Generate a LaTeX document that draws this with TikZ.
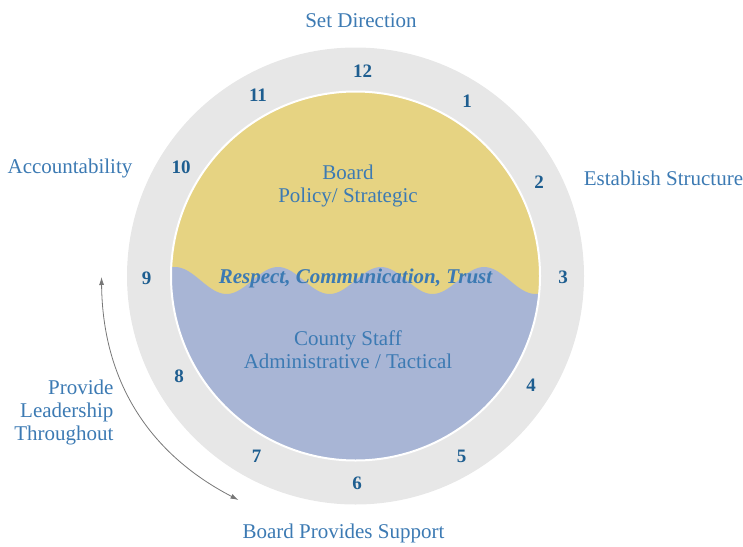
\documentclass[tikz,border=0pt]{standalone}
\usepackage{fontspec}
\setmainfont{Liberation Serif}
\usetikzlibrary{arrows.meta}
\definecolor{ringgray}{HTML}{E7E7E7}
\definecolor{boardyellow}{HTML}{E6D382}
\definecolor{staffblue}{HTML}{A8B5D5}
\definecolor{textblue}{HTML}{3C7AB3}
\definecolor{hourblue}{HTML}{1E5E90}
\definecolor{arrowgray}{HTML}{777777}
\begin{document}
\begin{tikzpicture}[x=1pt, y=-1pt,
    phase/.style={text=textblue, font=\fontsize{21}{23}\selectfont, align=center},
    hour/.style={text=hourblue, font=\fontsize{19}{19}\selectfont\bfseries}]
    \useasboundingbox (0,0) rectangle (743,546);
    % ring and the two halves
    \fill[ringgray] (355.5,276) circle[radius=228.5];
    \fill[boardyellow] (355.5,276) circle[radius=184.5];
    \begin{scope}
      \clip (355.5,276) circle[radius=184.5];
      \fill[staffblue] plot[domain=165:550, samples=150] (\x, {280.5-13.5*cos((\x-175)*3.495)})
        -- (550,470) -- (165,470) -- cycle;
    \end{scope}
    \draw[white, line width=2] (355.5,276) circle[radius=184.5];
    % inner texts
    \node[phase] (board) at (348,186) {Board\\Policy/ Strategic};
    \node[text=textblue, font=\fontsize{21}{23}\selectfont\bfseries\itshape] (values) at (355.5,278) {Respect, Communication, Trust};
    \node[phase] (staff) at (348,350) {County Staff\\Administrative / Tactical};
    % hours
    \node[hour] (h12) at (362.5,71) {12};
    \node[hour] (h1) at (467,101) {1};
    \node[hour] (h2) at (539,182) {2};
    \node[hour] (h3) at (563,277) {3};
    \node[hour] (h4) at (531,385) {4};
    \node[hour] (h5) at (461.5,456) {5};
    \node[hour] (h6) at (357,483) {6};
    \node[hour] (h7) at (256.5,456.5) {7};
    \node[hour] (h8) at (179,376) {8};
    \node[hour] (h9) at (146.5,278) {9};
    \node[hour] (h10) at (181,167) {10};
    \node[hour] (h11) at (258,95) {11};
    % outside texts
    \node[phase] (direction) at (361,21) {Set Direction};
    \node[phase] (structure) at (663.5,178) {Establish Structure};
    \node[phase] (support) at (343.5,533) {Board Provides Support};
    \node[phase] (account) at (70,168) {Accountability};
    \node[phase, align=right, anchor=east] (leader) at (117,412) {Provide\\Leadership\\Throughout};
    % arrow
    \coordinate (arrowtop) at (101.5,277);
    \coordinate (arrowend) at (238.5,500);
    \draw[{Latex[length=8pt,width=5pt]}-{Latex[length=8pt,width=5pt]}, arrowgray, line width=0.8] (arrowtop) to[bend right=31] (arrowend);
\end{tikzpicture}
\end{document}
